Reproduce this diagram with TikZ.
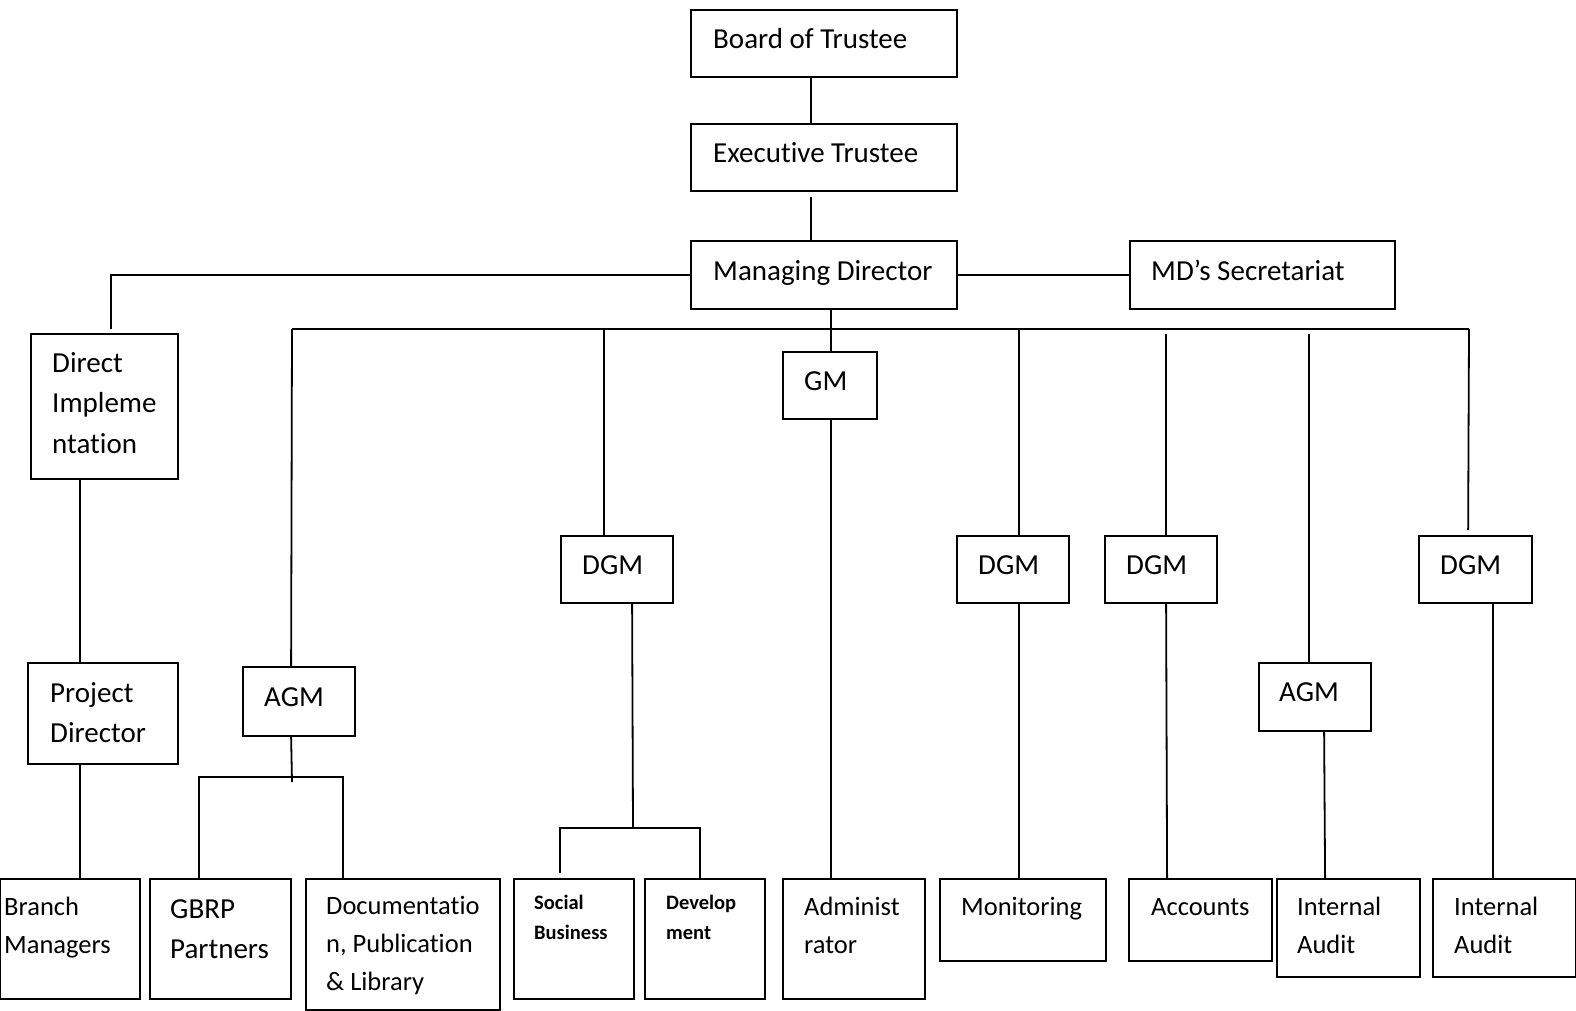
\documentclass[tikz,border=0pt]{standalone}
\usepackage{fontspec}
\setmainfont{Carlito}[Ligatures=NoCommon]
\usetikzlibrary{fit,calc}
\begin{document}
\begin{tikzpicture}[x=1pt,y=-1pt,
 box/.style={draw, line width=1.8pt, inner sep=0pt, rectangle},
 ln/.style={line width=1.8pt},
 tl/.style={anchor=base west, inner sep=0pt, align=left, font=\fontsize{29}{40.5}\selectfont},
 ts/.style={anchor=base west, inner sep=0pt, align=left, font=\fontsize{26.5}{37.7}\selectfont},
 tb/.style={anchor=base west, inner sep=0pt, align=left, font=\bfseries\fontsize{20.5}{30}\selectfont}]
\useasboundingbox[fill=white] (0,0) rectangle (1576,1011);

% boxes
\node[box, fit={(691,10)(957,77)}] (bot) {};
\node[box, fit={(691,124)(957,191)}] (exec) {};
\node[box, fit={(691,241)(957,309)}] (md) {};
\node[box, fit={(1130,241)(1395,309)}] (mds) {};
\node[box, fit={(31,334)(178,479)}] (di) {};
\node[box, fit={(783,352)(877,419)}] (gm) {};
\node[box, fit={(561,536)(673,603)}] (dgma) {};
\node[box, fit={(957,536)(1069,603)}] (dgmb) {};
\node[box, fit={(1105,536)(1217,603)}] (dgmc) {};
\node[box, fit={(1419,536)(1532,603)}] (dgmd) {};
\node[box, fit={(243,667)(355,736)}] (agma) {};
\node[box, fit={(1259,663)(1371,731)}] (agmb) {};
\node[box, fit={(28,663)(178,764)}] (pd) {};
\node[box, fit={(0,879)(140,999)}] (bm) {};
\node[box, fit={(150,879)(291,999)}] (gbrp) {};
\node[box, fit={(306,879)(500,1010)}] (doc) {};
\node[box, fit={(514,879)(634,999)}] (sb) {};
\node[box, fit={(645,879)(765,999)}] (dev) {};
\node[box, fit={(783,879)(925,999)}] (adm) {};
\node[box, fit={(940,879)(1106,961)}] (mon) {};
\node[box, fit={(1129,879)(1272,961)}] (acc) {};
\node[box, fit={(1277,879)(1420,977)}] (iaa) {};
\node[box, fit={(1433,879)(1576,977)}] (iab) {};

% texts (base anchor = baseline of the last line)
\node[tl] (bot-t) at (713,49) {Board of Trustee};
\node[tl] (exec-t) at (713,163) {Executive Trustee};
\node[tl] (md-t) at (713,280) {Managing Director};
\node[tl] (mds-t) at (1151,280) {MD’s Secretariat};
\node[tl] (di-t) at (52,453) {Direct\\Impleme\\ntation};
\node[tl] (gm-t) at (804,390) {GM};
\node[tl] (dgma-t) at (582,574) {DGM};
\node[tl] (dgmb-t) at (978,574) {DGM};
\node[tl] (dgmc-t) at (1126,574) {DGM};
\node[tl] (dgmd-t) at (1440,574) {DGM};
\node[tl] (agma-t) at (264,706) {AGM};
\node[tl] (agmb-t) at (1279,701) {AGM};
\node[tl, font=\fontsize{29}{40}\selectfont] (pd-t) at (50,742) {Project\\Director};
\node[ts] (bm-t) at (4,953) {Branch\\Managers};
\node[tl, font=\fontsize{29}{40}\selectfont] (gbrp-t) at (170,958) {GBRP\\Partners};
\node[ts] (doc-t) at (326,990) {Documentatio\\n, Publication\\\& Library};
\node[tb] (sb-t) at (534,939) {Social\\Business};
\node[tb] (dev-t) at (666,939) {Develop\\ment};
\node[ts] (adm-t) at (804,953) {Administ\\rator};
\node[ts] (mon-t) at (961,915) {Monitoring};
\node[ts] (acc-t) at (1151,915) {Accounts};
\node[ts] (iaa-t) at (1297,953) {Internal\\Audit};
\node[ts] (iab-t) at (1454,953) {Internal\\Audit};

% junction coordinates
\coordinate (busL) at (292,329);
\coordinate (busR) at (1469,329);
\coordinate (agmj) at (292,777);
\coordinate (dgmj) at (633,828);

% connectors
\draw[ln] ([xshift=121pt]bot.south west) -- ([xshift=121pt]exec.north west);
\draw[ln, shorten <=5pt] ([xshift=121pt]exec.south west) -- ([xshift=121pt]md.north west);
\draw[ln, shorten >=4pt] (md.west) -| ([xshift=81pt]di.north west);
\draw[ln] (md.east) -- (mds.west);
\draw[ln] (busL) -- (busR);
\draw[ln] ([xshift=141pt]md.south west) -- ([xshift=49pt]gm.north west);
\draw[ln] ([xshift=49pt]gm.south west) -- ([xshift=49pt]adm.north west);
\draw[ln] (busL) -- ([xshift=49pt]agma.north west);
\draw[ln] ([xshift=44pt]dgma.north west) -- ([xshift=44pt]dgma.north west |- busL);
\draw[ln] ([xshift=63pt]dgmb.north west) -- ([xshift=63pt]dgmb.north west |- busL);
\draw[ln, shorten >=5pt] ([xshift=62pt]dgmc.north west) -- ([xshift=62pt]dgmc.north west |- busL);
\draw[ln, shorten >=5pt] ([xshift=51pt]agmb.north west) -- ([xshift=51pt]agmb.north west |- busL);
\draw[ln, shorten >=5pt] (busR) -- ([xshift=50pt]dgmd.north west);
\draw[ln] ([xshift=50pt]di.south west) -- ([xshift=53pt]pd.north west);
\draw[ln] ([xshift=53pt]pd.south west) -- ([xshift=81pt]bm.north west);
\draw[ln] ([xshift=49pt]agma.south west) -- ([yshift=-5pt]agmj);
\draw[ln] ([xshift=50pt]gbrp.north west) |- (agmj) -| ([xshift=38pt]doc.north west);
\draw[ln] ([xshift=72pt]dgma.south west) -- (dgmj);
\draw[ln, shorten <=5pt] ([xshift=47pt]sb.north west) |- (dgmj) -| ([xshift=56pt]dev.north west);
\draw[ln] ([xshift=63pt]dgmb.south west) -- ([xshift=80pt]mon.north west);
\draw[ln] ([xshift=62pt]dgmc.south west) -- ([xshift=39pt]acc.north west);
\draw[ln] ([xshift=66pt]agmb.south west) -- ([xshift=49pt]iaa.north west);
\draw[ln] ([xshift=75pt]dgmd.south west) -- ([xshift=61pt]iab.north west);
\end{tikzpicture}
\end{document}
